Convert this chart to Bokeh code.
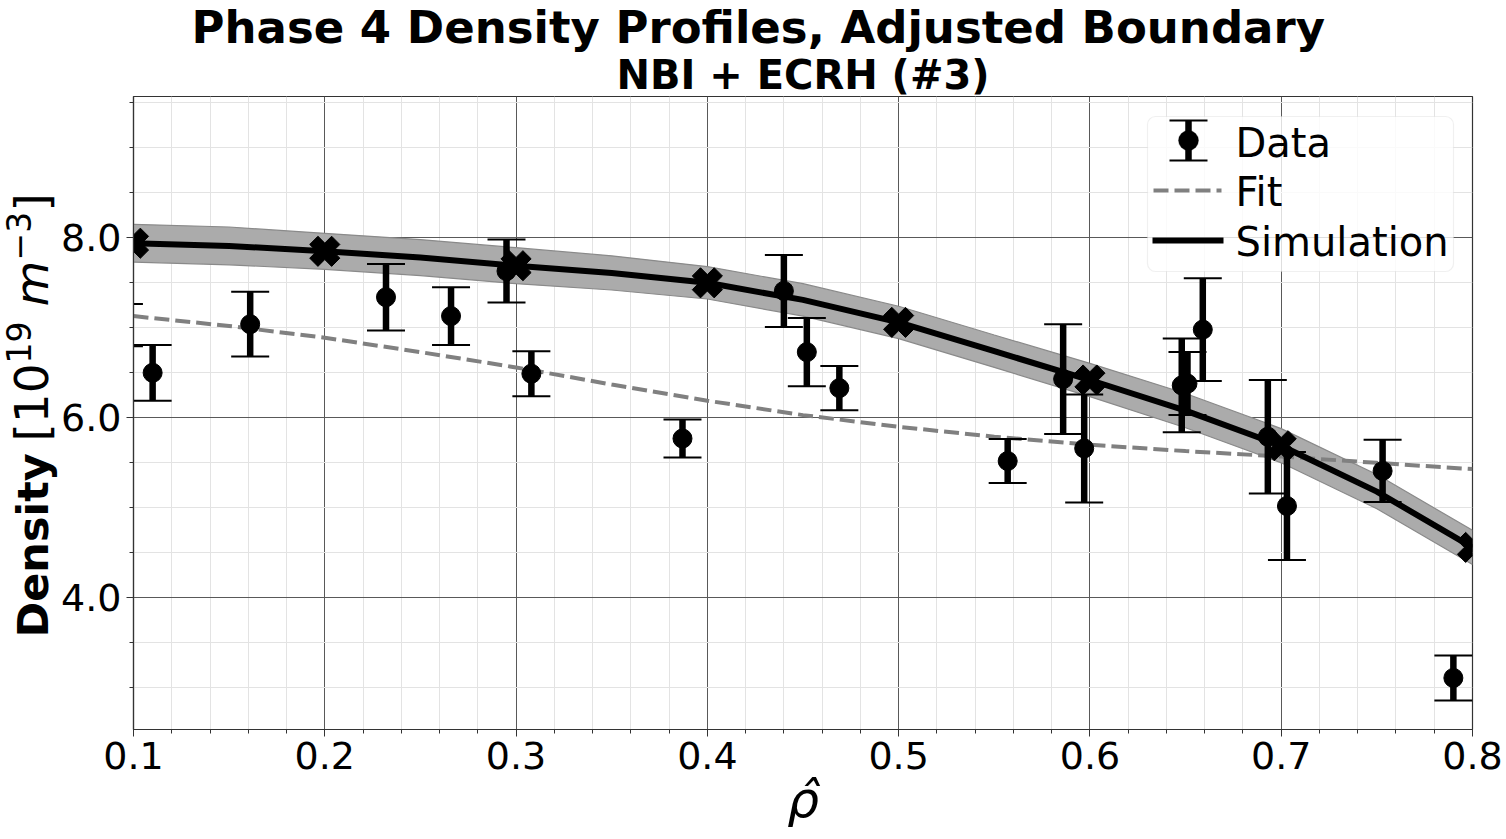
import numpy as np
from bokeh.plotting import figure
from bokeh.layouts import row
from bokeh.models import (Label, Arrow, TeeHead, BoxAnnotation, FixedTicker,
                          NumeralTickFormatter, Title)
from bokeh.embed import file_html
from bokeh.resources import INLINE

# ---------------- data ----------------
title_text = "Phase 4 Density Profiles, Adjusted Boundary"
subtitle_text = "NBI + ECRH (#3)"
x_label_text = "\u03c1\u0302"

data_rho = [0.095, 0.110, 0.161, 0.232, 0.266, 0.295, 0.308, 0.387, 0.440, 0.452, 0.469,
            0.557, 0.586, 0.597, 0.648, 0.651, 0.659, 0.693, 0.703, 0.753, 0.790]
data_density = [7.03, 6.50, 7.04, 7.34, 7.13, 7.63, 6.49, 5.77, 7.41, 6.73, 6.33,
                5.52, 6.43, 5.66, 6.36, 6.38, 6.98, 5.79, 5.02, 5.41, 3.11]
data_err = [0.235, 0.31, 0.36, 0.37, 0.32, 0.35, 0.25, 0.21, 0.40, 0.38, 0.245,
            0.245, 0.61, 0.60, 0.52, 0.35, 0.57, 0.63, 0.60, 0.345, 0.25]

fit_rho = [0.10, 0.15, 0.20, 0.25, 0.30, 0.35, 0.40, 0.45, 0.50, 0.55, 0.60, 0.65, 0.70, 0.75, 0.80]
fit_density = [7.13, 7.02, 6.89, 6.73, 6.56, 6.37, 6.19, 6.03, 5.90, 5.79, 5.70, 5.63, 5.57, 5.50, 5.43]

sim_rho = [0.10, 0.15, 0.20, 0.25, 0.30, 0.35, 0.40, 0.45, 0.50, 0.55, 0.60, 0.65, 0.70, 0.75, 0.80]
sim_density = [7.94, 7.91, 7.85, 7.78, 7.69, 7.61, 7.50, 7.31, 7.06, 6.74, 6.42, 6.08, 5.69, 5.18, 4.56]
sim_unc = [0.21, 0.21, 0.20, 0.20, 0.20, 0.19, 0.18, 0.18, 0.18, 0.18, 0.185, 0.19, 0.19, 0.19, 0.19]

sim_marker_rho = [0.1, 0.2, 0.3, 0.4, 0.5, 0.6, 0.7, 0.8]
sim_marker_density = [7.94, 7.85, 7.69, 7.50, 7.06, 6.42, 5.69, 4.56]

x_ticks = [0.1, 0.2, 0.3, 0.4, 0.5, 0.6, 0.7, 0.8]
x_tick_labels = ["0.1", "0.2", "0.3", "0.4", "0.5", "0.6", "0.7", "0.8"]
y_ticks = [4.0, 6.0, 8.0]
y_tick_labels = ["4.0", "6.0", "8.0"]
x_limits = (0.1, 0.8)
y_limits = (2.537, 9.57)

legend_labels = ["Data", "Fit", "Simulation"]

# ---------------- layout (page pixels) ----------------
PAGE_W, PAGE_H = 1506, 839
LW = 58                       # strip that carries the y label
IFL, IFT, IFR, IFB = 133, 96, 1472, 729   # plot frame on the page
W = PAGE_W - LW
H = PAGE_H
FONT = "DejaVu Sans"
BASELINE_SHIFT = 0.32         # rendered alphabetic baseline sits ~0.32 em past the anchor


def dx(px):
    return x_limits[0] + (px - IFL) / (IFR - IFL) * (x_limits[1] - x_limits[0])


def dy(py):
    return y_limits[1] - (py - IFT) / (IFB - IFT) * (y_limits[1] - y_limits[0])


p = figure(width=W, height=H, x_range=x_limits, y_range=y_limits, title=None,
           output_backend="svg", toolbar_location=None,
           min_border_left=IFL - LW, min_border_right=LW + W - IFR,
           min_border_top=IFT, min_border_bottom=H - IFB,
           background_fill_color="white", border_fill_color="white")

# titles
p.add_layout(Title(text=subtitle_text, align="center", text_font=FONT,
                   text_font_size="40px", text_font_style="bold",
                   text_color="black", standoff=-3), "above")
p.add_layout(Title(text=title_text, align="left", offset=58, text_font=FONT,
                   text_font_size="45px", text_font_style="bold",
                   text_color="black", standoff=-5), "above")
# x label as a title below the axis
p.add_layout(Title(text=x_label_text, align="center", text_font=FONT,
                   text_font_size="50px", text_font_style="italic",
                   text_color="black", standoff=-6), "below")

# ticks / axes
minor_x = [round(0.1 + 0.02 * i, 2) for i in range(36) if i % 5]
minor_y = [round(2.5 + 0.5 * i, 1) for i in range(16) if (2.5 + 0.5 * i) % 2]
p.xaxis.ticker = FixedTicker(ticks=x_ticks, minor_ticks=minor_x)
p.yaxis.ticker = FixedTicker(ticks=y_ticks, minor_ticks=minor_y)
p.xaxis.formatter = NumeralTickFormatter(format="0.0")
p.yaxis.formatter = NumeralTickFormatter(format="0.0")
p.xaxis.major_label_overrides = dict(zip(x_ticks, x_tick_labels))
p.yaxis.major_label_overrides = dict(zip(y_ticks, y_tick_labels))

for ax in (p.xaxis[0], p.yaxis[0]):
    ax.axis_line_color = "#333333"
    ax.axis_line_width = 1.2
    ax.major_tick_line_color = "#333333"
    ax.minor_tick_line_color = "#333333"
    ax.major_tick_out = 7
    ax.major_tick_in = 0
    ax.minor_tick_out = 4
    ax.minor_tick_in = 0
    ax.major_label_text_font = FONT
    ax.major_label_text_font_size = "38px"
    ax.major_label_text_color = "black"
p.xaxis.major_label_standoff = 5
p.yaxis.major_label_standoff = 5

for g in (p.xgrid[0], p.ygrid[0]):
    g.grid_line_color = "#595959"
    g.grid_line_width = 1
    g.minor_grid_line_color = "#e3e3e3"
    g.minor_grid_line_width = 1

p.outline_line_color = "#333333"
p.outline_line_width = 1.2

# ---------------- glyphs ----------------
lo = [s - u for s, u in zip(sim_density, sim_unc)]
hi = [s + u for s, u in zip(sim_density, sim_unc)]
p.varea(x=sim_rho, y1=lo, y2=hi, fill_color="#ababab")
p.line(sim_rho, lo, line_color="#8a8a8a", line_width=1.2)
p.line(sim_rho, hi, line_color="#8a8a8a", line_width=1.2)

p.line(fit_rho, fit_density, line_color="#808080", line_width=4, line_dash="15 6")
p.line(sim_rho, sim_density, line_color="black", line_width=6)
p.scatter(sim_marker_rho, sim_marker_density, marker="plus", angle=np.pi / 4,
          size=31, color="black")

lower = [d - e for d, e in zip(data_density, data_err)]
upper = [d + e for d, e in zip(data_density, data_err)]
p.segment(data_rho, lower, data_rho, upper, line_width=6.5, line_color="black")
p.scatter(data_rho, upper, marker="dash", size=38, line_width=2, line_color="black")
p.scatter(data_rho, lower, marker="dash", size=38, line_width=2, line_color="black")
p.scatter(data_rho, data_density, marker="circle", size=19, color="black")

# ---------------- legend (drawn by hand) ----------------
p.add_layout(BoxAnnotation(left=dx(1147), right=dx(1453), top=dy(116), bottom=dy(271),
                           fill_color="white", fill_alpha=0.8,
                           line_color="#cccccc", line_width=1.2, border_radius=8))
p.add_layout(Arrow(x_start=dx(1188), y_start=dy(160), x_end=dx(1188), y_end=dy(120),
                   start=TeeHead(size=38, line_width=2, line_color="black"),
                   end=TeeHead(size=38, line_width=2, line_color="black"),
                   line_width=6.5, line_color="black"))
p.add_layout(BoxAnnotation(left=dx(1178), right=dx(1198), top=dy(130), bottom=dy(150),
                           fill_color="black", fill_alpha=1, line_color="black",
                           border_radius=10))
p.add_layout(Arrow(x_start=dx(1153), y_start=dy(190), x_end=dx(1221), y_end=dy(190),
                   start=None, end=None, line_width=4, line_color="#808080", line_dash="15 6"))
p.add_layout(Arrow(x_start=dx(1152), y_start=dy(240), x_end=dx(1223), y_end=dy(240),
                   start=None, end=None, line_width=6, line_color="black"))
LEG_FS = 40
for txt, base in zip(legend_labels, [155, 204, 254]):
    p.add_layout(Label(x=dx(1235), y=dy(base - BASELINE_SHIFT * LEG_FS), text=txt,
                       text_font=FONT, text_font_size=f"{LEG_FS}px", text_align="left",
                       text_baseline="alphabetic", text_color="black"))

# ---------------- y label strip (its frame is aligned with the plot frame) ----------------
s = figure(width=LW, height=H, x_range=(0, LW), y_range=(IFB, IFT), title=None,
           output_backend="svg", toolbar_location=None,
           x_axis_location=None, y_axis_location=None,
           min_border_left=0, min_border_right=0,
           min_border_top=IFT, min_border_bottom=H - IFB,
           background_fill_color="white", border_fill_color="white")
s.outline_line_color = None
s.xgrid.visible = False
s.ygrid.visible = False
# (text, start y on page, baseline x on page, font px, style)
ylab = [
    ("Density", 637, 46, 43, "bold"),
    ("[10", 441, 46, 47, "normal"),
    ("19", 363, 28.5, 33, "normal"),
    ("m", 306, 46, 47, "italic"),
    ("\u22123", 260, 28.5, 33, "normal"),
    ("]", 211, 46, 47, "normal"),
]
for txt, py, px, fs, style in ylab:
    s.add_layout(Label(x=px - BASELINE_SHIFT * fs, y=py, text=txt, text_font=FONT,
                       text_font_size=f"{fs}px", text_font_style=style,
                       angle=np.pi / 2, text_align="left",
                       text_baseline="alphabetic", text_color="black"))

layout = row(s, p, spacing=0)
open("out.html", "w").write(file_html(layout, INLINE))
